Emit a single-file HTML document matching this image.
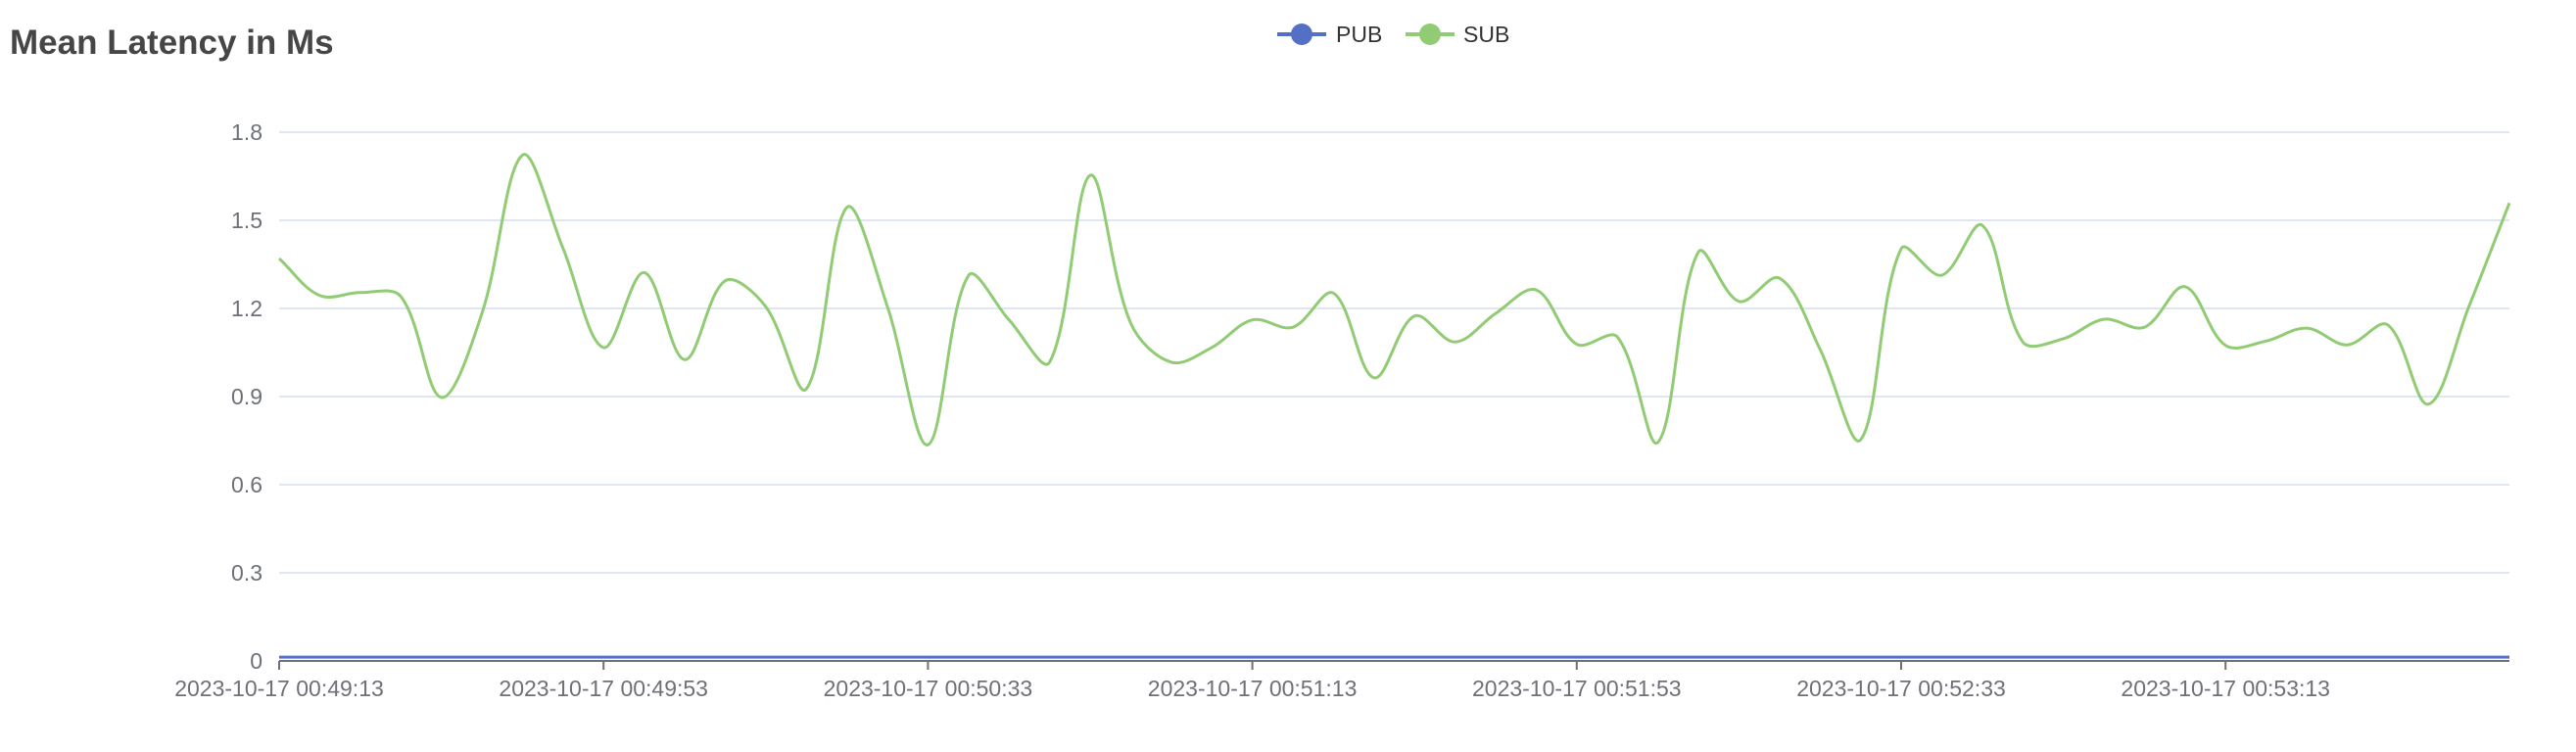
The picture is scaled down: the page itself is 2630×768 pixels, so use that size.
<!DOCTYPE html>
<html><head><meta charset="utf-8"><style>
html,body{margin:0;padding:0;background:#fff;}
svg{display:block;font-family:"Liberation Sans",Arial,sans-serif;}
</style></head><body>
<svg id="chart" width="2630" height="768" viewBox="0 0 2630 768" xmlns="http://www.w3.org/2000/svg">
<text x="10" y="55" font-size="35" font-weight="bold" fill="#464646">Mean Latency in Ms</text>
<g>
 <g>
  <line x1="1304" y1="35" x2="1354" y2="35" stroke="#5470c6" stroke-width="4"/>
  <circle cx="1329" cy="35" r="11" fill="#5470c6"/>
  <text x="1364" y="43" font-size="23" fill="#333">PUB</text>
 </g>
 <g>
  <line x1="1435" y1="35" x2="1485" y2="35" stroke="#91cc75" stroke-width="4"/>
  <circle cx="1460" cy="35" r="11" fill="#91cc75"/>
  <text x="1494" y="43" font-size="23" fill="#333">SUB</text>
 </g>
</g>
<g id="grid"></g>
<g id="yl"></g>
<g id="xa"></g>
<g id="series"></g>
</svg>
<script>
const yTicks = [0, 0.3, 0.6, 0.9, 1.2, 1.5, 1.8];
const yTickLabels = ["0", "0.3", "0.6", "0.9", "1.2", "1.5", "1.8"];
const xTickSeconds = [0, 40, 80, 120, 160, 200, 240];
const xTickLabels = ["2023-10-17 00:49:13","2023-10-17 00:49:53","2023-10-17 00:50:33","2023-10-17 00:51:13","2023-10-17 00:51:53","2023-10-17 00:52:33","2023-10-17 00:53:13"];
const sampleSeconds = [];
for (let i = 0; i < 56; i++) sampleSeconds.push(i * 5);
const subValues = [1.37,1.244,1.254,1.241,0.897,1.183,1.722,1.405,1.067,1.322,1.026,1.294,1.206,0.926,1.544,1.206,0.736,1.312,1.161,1.017,1.653,1.15,1.017,1.067,1.161,1.136,1.252,0.964,1.174,1.086,1.183,1.263,1.078,1.103,0.744,1.392,1.224,1.303,1.061,0.753,1.403,1.313,1.483,1.086,1.097,1.163,1.136,1.274,1.074,1.089,1.133,1.076,1.144,0.874,1.206,1.559];
const pubValues = sampleSeconds.map(() => 0.013);

const X0 = 285, X1 = 2562, Y0 = 675, Y1 = 135, TMAX = 275, VMAX = 1.8;
const xs = t => X0 + (t / TMAX) * (X1 - X0);
const ys = v => Y0 - (v / VMAX) * (Y0 - Y1);
const NS = "http://www.w3.org/2000/svg";
function mk(tag, attrs, parent) {
  const e = document.createElementNS(NS, tag);
  for (const k in attrs) e.setAttribute(k, attrs[k]);
  parent.appendChild(e);
  return e;
}
const grid = document.getElementById('grid'), yl = document.getElementById('yl'), xa = document.getElementById('xa'), series = document.getElementById('series');
yTicks.forEach((v, i) => {
  if (v > 0) {
    const g = mk('line', {x1: X0, x2: X1, y1: ys(v), y2: ys(v), stroke: '#e0e6f1', 'stroke-width': 2}, grid);
    
    
  }
  const t = mk('text', {x: 268, y: ys(v) + 8, 'font-size': 23, fill: '#6e7079', 'text-anchor': 'end'}, yl);
  t.textContent = yTickLabels[i];
  
  
});
const axl = mk('line', {x1: X0, x2: X1, y1: Y0, y2: Y0, stroke: '#6e7079', 'stroke-width': 2}, xa);


xTickSeconds.forEach((s, i) => {
  const x = xs(s);
  const tk = mk('line', {x1: x, x2: x, y1: Y0, y2: Y0 + 9, stroke: '#6e7079', 'stroke-width': 2}, xa);
  
  
  const t = mk('text', {x: x, y: 711, 'font-size': 23, fill: '#6e7079', 'text-anchor': 'middle'}, xa);
  t.textContent = xTickLabels[i];
  
  
});
function smoothPath(pts, s) {
  let d = 'M' + pts[0][0] + ' ' + pts[0][1];
  const cps = pts.map((p, i) => {
    const prev = pts[Math.max(0, i - 1)], next = pts[Math.min(pts.length - 1, i + 1)];
    const vx = (next[0] - prev[0]) * s, vy = (next[1] - prev[1]) * s;
    const d0 = Math.hypot(p[0] - prev[0], p[1] - prev[1]), d1 = Math.hypot(next[0] - p[0], next[1] - p[1]);
    const sum = d0 + d1 || 1;
    return [[p[0] - vx * d0 / sum, p[1] - vy * d0 / sum], [p[0] + vx * d1 / sum, p[1] + vy * d1 / sum]];
  });
  for (let i = 1; i < pts.length; i++) {
    const a = cps[i - 1][1], b = cps[i][0];
    d += ' C' + a[0] + ' ' + a[1] + ' ' + b[0] + ' ' + b[1] + ' ' + pts[i][0] + ' ' + pts[i][1];
  }
  return d;
}
const pubPts = sampleSeconds.map((s, i) => [xs(s), ys(pubValues[i])]);
const subPts = sampleSeconds.map((s, i) => [xs(s), ys(subValues[i])]);
const pl = mk('path', {d: smoothPath(pubPts, 0.35), fill: 'none', stroke: '#5470c6', 'stroke-width': 3}, series);


const sl = mk('path', {d: smoothPath(subPts, 0.35), fill: 'none', stroke: '#91cc75', 'stroke-width': 3, 'stroke-linejoin': 'round'}, series);


</script>
</body></html>
